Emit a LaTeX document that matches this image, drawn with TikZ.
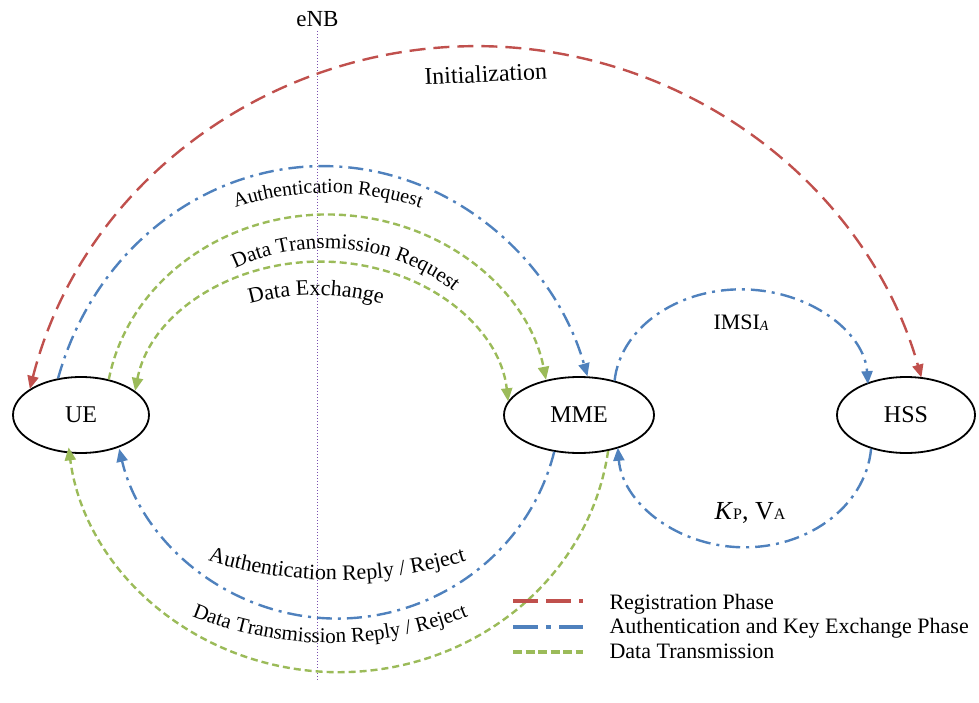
\documentclass[tikz,border=0pt]{standalone}
\usepackage{fontspec}
\setmainfont{Liberation Serif}
\usetikzlibrary{arrows.meta,shapes.geometric,decorations.text,calc}
\definecolor{regred}{HTML}{C0504D}
\definecolor{authblue}{HTML}{4F81BD}
\definecolor{datagreen}{HTML}{9BBB59}
\definecolor{enbpurple}{HTML}{7A4FB0}
\newcommand\fsA{\fontsize{20}{24}\selectfont}
\newcommand\fsB{\fontsize{21}{25}\selectfont}
\newcommand\fsC{\fontsize{22}{26}\selectfont}
\begin{document}
\begin{tikzpicture}[x=1pt,y=-1pt,
  ent/.style={draw, line width=1.8pt, ellipse, inner sep=0pt, minimum height=76pt, font=\fontsize{24}{28}\selectfont},
  endtip/.style={-{Triangle[length=13pt,width=11pt]}},
  bothtips/.style={{Triangle[length=13pt,width=11pt]}-{Triangle[length=13pt,width=11pt]}},
  regline/.style={draw=regred, line width=2.4pt, dash pattern=on 16pt off 8pt},
  authline/.style={draw=authblue, line width=2.4pt, dash pattern=on 15pt off 6pt on 3pt off 6pt},
  dataline/.style={draw=datagreen, line width=2.4pt, dash pattern=on 7pt off 4pt},
  arclabel/.style={decorate, decoration={text along path, text align=center, text={#1}}},
  legline/.style={line width=3.2pt},
  legtext/.style={anchor=base west, font=\fontsize{22}{26}\selectfont},
]
\useasboundingbox (0,0) rectangle (979,703);

% entities
\node[ent, minimum width=136pt] (ue) at (81,415) {UE};
\node[ent, minimum width=150pt] (mme) at (579,415) {MME};
\node[ent, minimum width=138pt] (hss) at (906,415) {HSS};

% eNB line
\node[anchor=base, font=\fontsize{23}{26}\selectfont] (enb) at (317.5,27) {eNB};
\coordinate (enbend) at (317.5,680);
\draw[enbpurple, line width=1.5pt, dash pattern=on 1.5pt off 1.5pt] (enb.south) -- (enbend);

% registration
\draw[regline, bothtips] (ue.153) arc[start angle=194, end angle=344.5, x radius=461, y radius=452];
% authentication request
\draw[authline, endtip] (ue.122) arc[start angle=196.6, end angle=343, x radius=276.5, y radius=297];
% data transmission request
\draw[dataline, endtip] (ue.52) arc[start angle=190.1, end angle=350, x radius=222, y radius=200];
% data exchange
\draw[dataline, bothtips] (ue.24) arc[start angle=188.9, end angle=355, x radius=188, y radius=153];
% authentication reply
\draw[authline, endtip] (mme.236) arc[start angle=13.8, end angle=167, x radius=223.6, y radius=219];
% data transmission reply
\draw[dataline, endtip] (mme.309) arc[start angle=7.8, end angle=173, x radius=272, y radius=256];
% IMSI
\draw[authline, endtip] (mme.44) arc[start angle=185, end angle=357, x radius=127, y radius=100];
% KP VA
\draw[authline, endtip] (hss.224) arc[start angle=4.5, end angle=176, x radius=127, y radius=107];

% labels
\node[anchor=base, rotate=2.7, font=\fontsize{24}{28}\selectfont] (init) at (486,82) {Initialization};
\coordinate (cA) at (328,489);
\path[arclabel={|\fsA|Authentication Request}] ($(cA)+(220:296 and 296)$) arc[start angle=220, end angle=320, x radius=296, y radius=296];
\coordinate (cB) at (326.5,415.2);
\path[arclabel={|\fsB|Data Transmission Request}] ($(cB)+(217:189 and 167)$) arc[start angle=217, end angle=337, x radius=189, y radius=167];
\coordinate (cC) at (316,545);
\path[arclabel={|\fsC|Data Exchange}] ($(cC)+(240:250 and 250)$) arc[start angle=240, end angle=300, x radius=250, y radius=250];
\coordinate (cD) at (337,137);
\path[arclabel={|\fsC|Authentication Reply / Reject}] ($(cD)+(125:443 and 443)$) arc[start angle=125, end angle=55, x radius=443, y radius=443];
\coordinate (cE) at (330,277);
\path[arclabel={|\fsB|Data Transmission Reply / Reject}] ($(cE)+(130:366 and 366)$) arc[start angle=130, end angle=50, x radius=366, y radius=366];

\node[anchor=base, font=\fontsize{22}{26}\selectfont] (imsi) at (741,329) {IMSI\raisebox{-1pt}{\fontsize{14}{16}\selectfont\itshape A}};
\node[anchor=base, font=\fontsize{26}{28}\selectfont] (kpva) at (750,519) {\textit{K}{\fontsize{16}{18}\selectfont P}, V{\fontsize{16}{18}\selectfont A}};

% legend
\coordinate (l1a) at (513,601); \coordinate (l1b) at (583,601);
\coordinate (l2a) at (513,627); \coordinate (l2b) at (583,627);
\coordinate (l3a) at (513,652); \coordinate (l3b) at (583,652);
\draw[regred, legline, dash pattern=on 25pt off 8pt] (l1a) -- (l1b);
\draw[authblue, legline, dash pattern=on 25pt off 8pt on 5pt off 8pt] (l2a) -- (l2b);
\draw[datagreen, legline, dash pattern=on 9pt off 3.5pt] (l3a) -- (l3b);
\node[legtext] (t1) at (606,609) {Registration Phase};
\node[legtext] (t2) at (606,633.5) {Authentication and Key Exchange Phase};
\node[legtext] (t3) at (606,658) {Data Transmission};
\end{tikzpicture}
\end{document}
